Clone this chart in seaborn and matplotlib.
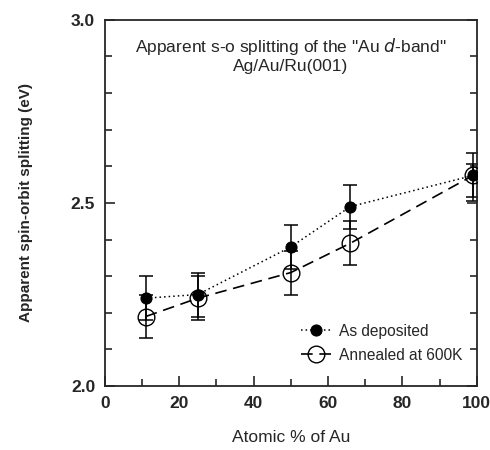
import matplotlib
matplotlib.use("Agg")
import matplotlib.pyplot as plt
import seaborn as sns
import numpy as np
import pandas as pd
from matplotlib.ticker import MultipleLocator

sns.set_style("ticks")
plt.rcParams['font.family'] = ['Liberation Sans', 'DejaVu Sans']

x_dep = [11, 25, 50, 66, 99]
y_dep = [2.24, 2.25, 2.38, 2.49, 2.575]
err_dep_lo = [0.06, 0.06, 0.06, 0.06, 0.06]
err_dep_hi = [0.06, 0.06, 0.06, 0.06, 0.06]

x_ann = [11, 25, 50, 66, 99]
y_ann = [2.19, 2.24, 2.31, 2.39, 2.575]
err_ann_lo = [0.06, 0.06, 0.06, 0.06, 0.07]
err_ann_hi = [0.06, 0.06, 0.06, 0.06, 0.03]

df = pd.concat([
    pd.DataFrame({"x": x_dep, "y": y_dep, "s": "As deposited"}),
    pd.DataFrame({"x": x_ann, "y": y_ann, "s": "Annealed at 600K"}),
])

fig = plt.figure(figsize=(4.9, 4.5), dpi=100)
ax = fig.add_axes([0.214, 0.142, 0.759, 0.814])

ax.errorbar(x_dep, y_dep, yerr=[err_dep_lo, err_dep_hi], fmt="none",
            ecolor="black", elinewidth=1.1, capsize=5, capthick=1.1, zorder=2)
ax.errorbar(x_ann, y_ann, yerr=[err_ann_lo, err_ann_hi], fmt="none",
            ecolor="black", elinewidth=1.1, capsize=5, capthick=1.1, zorder=2)

d = df[df.s == "As deposited"]
sns.lineplot(data=d, x="x", y="y", ax=ax, color="black", linestyle=(0, (1, 2)),
             lw=1.1, marker="o", markersize=8, markerfacecolor="black",
             markeredgecolor="black", label="As deposited", zorder=3)
a = df[df.s == "Annealed at 600K"]
sns.lineplot(data=a, x="x", y="y", ax=ax, color="black", linestyle=(0, (7, 4)),
             lw=1.2, marker="o", markersize=12, markerfacecolor="none",
             markeredgecolor="black", markeredgewidth=1.0,
             label="Annealed at 600K", zorder=3)

ax.set_xlim(0, 100)
ax.set_ylim(2.0, 3.0)
ax.xaxis.set_major_locator(MultipleLocator(20))
ax.xaxis.set_minor_locator(MultipleLocator(10))
ax.yaxis.set_major_locator(MultipleLocator(0.5))
ax.yaxis.set_minor_locator(MultipleLocator(0.1))
ax.tick_params(axis="both", which="both", direction="in", top=False, right=True,
               labelsize=12.5, width=1.2, pad=7)
ax.tick_params(which="major", length=7)
ax.tick_params(which="minor", length=5)
ax.set_xticks([0, 20, 40, 60, 80, 100])
ax.set_xticklabels(["0", "20", "40", "60", "80", "100"], fontweight="bold")
ax.set_yticks([2.0, 2.5, 3.0])
ax.set_yticklabels(["2.0", "2.5", "3.0"], fontweight="bold")
for s in ax.spines.values():
    s.set_linewidth(1.3)

ax.set_xlabel("Atomic % of Au", fontsize=12.5, labelpad=14)
ax.set_ylabel("Apparent spin-orbit splitting (eV)", fontsize=11,
              fontweight="bold", labelpad=27)

ax.text(0.5, 0.955, 'Apparent s-o splitting of the "Au $\\it{d}$-band"\nAg/Au/Ru(001)',
        transform=ax.transAxes, ha="center", va="top", fontsize=12.5, linespacing=1.15)

leg = ax.legend(loc="lower right", frameon=False, fontsize=11.2, handlelength=2.0,
                handletextpad=0.5, bbox_to_anchor=(1.0, 0.025), labelspacing=0.6)

fig.savefig("out.png", dpi=100)
